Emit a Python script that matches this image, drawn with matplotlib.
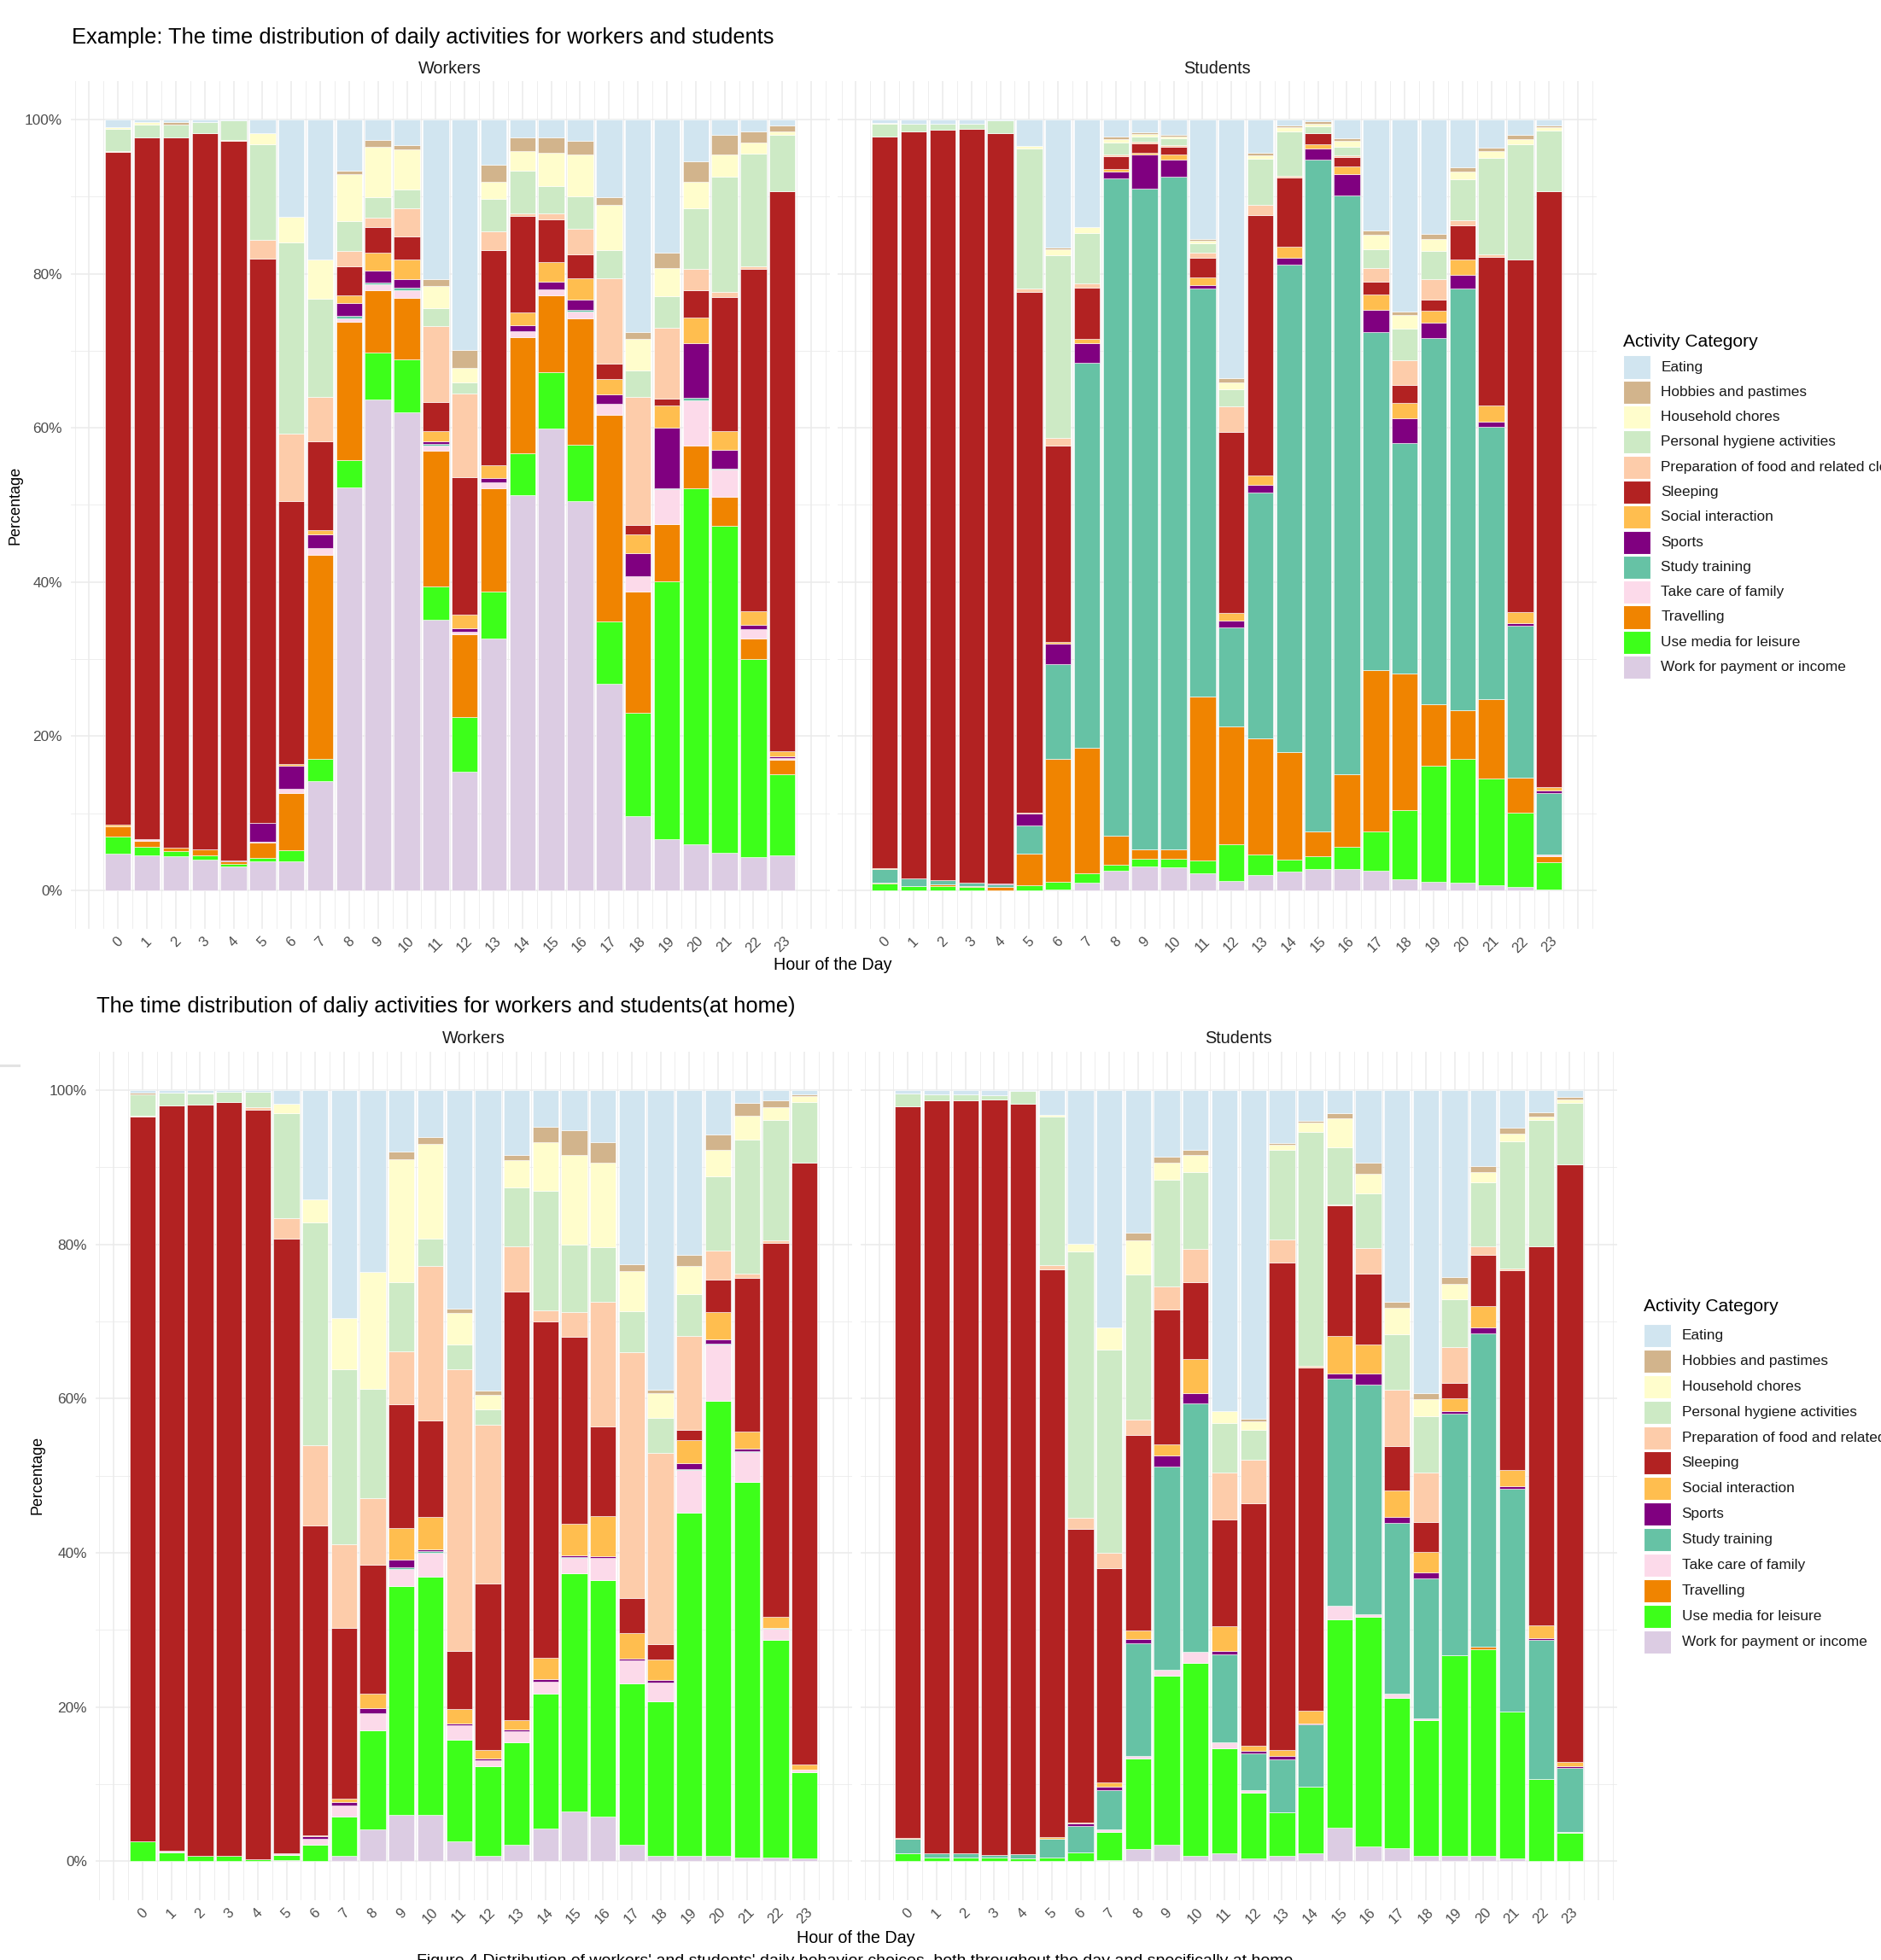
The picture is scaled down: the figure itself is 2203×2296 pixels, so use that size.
import numpy as np
import matplotlib
matplotlib.use("Agg")
import matplotlib.pyplot as plt
from matplotlib.patches import Rectangle
from matplotlib.lines import Line2D

plt.rcParams['font.family'] = ['Liberation Sans', 'DejaVu Sans']

W, H = 2203, 2296
hours = list(range(24))

categories = ["Eating", "Hobbies and pastimes", "Household chores",
              "Personal hygiene activities", "Preparation of food and related cleaning",
              "Sleeping", "Social interaction", "Sports", "Study training",
              "Take care of family", "Travelling", "Use media for leisure",
              "Work for payment or income"]
colors = ["#D1E5F0", "#D2B48C", "#FFFDCC", "#CDEAC5", "#FDCCAA", "#B22222",
          "#FFBE4F", "#800080", "#66C2A5", "#FCDAEA", "#F08400", "#3DFF1A", "#DCCCE3"]

# percentages per hour
workers_all = {
    "Eating": [1.0, 0.3, 0.3, 0.35, 0.1, 1.8, 12.6, 18.2, 6.6, 2.6, 3.3, 20.7, 29.8, 5.9, 2.3, 2.3, 2.7, 10.1, 27.5, 17.2, 5.4, 2.0, 1.5, 0.8],
    "Hobbies and pastimes": [0, 0, 0.3, 0, 0, 0, 0, 0, 0.4, 0.9, 0.6, 0.8, 2.3, 2.2, 1.8, 2.0, 1.8, 1.0, 0.9, 2.0, 2.7, 2.5, 1.5, 0.7],
    "Household chores": [0.2, 0.3, 0, 0, 0, 1.4, 3.3, 5.0, 6.1, 6.5, 5.2, 2.9, 1.9, 2.2, 2.5, 4.3, 5.5, 5.8, 4.1, 3.7, 3.4, 2.9, 1.4, 0.5],
    "Personal hygiene activities": [2.9, 1.7, 1.7, 1.4, 2.5, 12.4, 24.9, 12.8, 3.9, 2.7, 2.4, 2.3, 1.5, 4.2, 5.6, 3.5, 4.2, 3.7, 3.5, 4.1, 7.8, 15.0, 14.6, 7.3],
    "Preparation of food and related cleaning": [0.1, 0, 0, 0, 0.1, 2.5, 8.7, 5.8, 2.0, 1.2, 3.7, 9.9, 10.8, 2.4, 0.3, 0.8, 3.3, 11.1, 16.5, 9.2, 2.8, 0.6, 0.3, 0],
    "Sleeping": [87.5, 91.1, 92.2, 92.9, 93.6, 73.3, 34.1, 11.5, 3.7, 3.3, 3.0, 3.7, 17.8, 28.0, 12.5, 5.5, 3.1, 2.0, 1.3, 0.9, 3.5, 17.5, 44.4, 72.6],
    "Social interaction": [0.3, 0, 0, 0, 0, 0.1, 0.2, 0.5, 1.0, 2.3, 2.5, 1.4, 1.8, 1.6, 1.6, 2.6, 2.8, 2.0, 2.4, 2.8, 3.4, 2.4, 1.7, 0.7],
    "Sports": [0, 0, 0, 0, 0.2, 2.4, 3.0, 1.8, 1.7, 1.6, 1.1, 0.3, 0.4, 0.6, 0.8, 1.0, 1.3, 1.2, 3.0, 7.9, 7.0, 2.4, 0.6, 0.2],
    "Study training": [0, 0, 0, 0, 0, 0, 0, 0, 0.3, 0.2, 0.3, 0.2, 0, 0, 0, 0, 0.2, 0, 0, 0.1, 0.3, 0.2, 0, 0],
    "Take care of family": [0, 0.2, 0, 0, 0, 0.1, 0.6, 0.95, 0.5, 0.8, 1.0, 0.7, 0.4, 0.7, 0.8, 0.7, 0.9, 1.4, 2.0, 4.5, 5.9, 3.5, 1.2, 0.2],
    "Travelling": [1.3, 0.8, 0.4, 0.75, 0.3, 2.0, 7.4, 26.5, 17.9, 8.1, 8.0, 17.6, 10.7, 13.4, 15.1, 10.0, 16.4, 26.8, 15.7, 7.5, 5.5, 3.8, 2.7, 1.9],
    "Use media for leisure": [2.2, 1.1, 0.7, 0.55, 0.3, 0.4, 1.5, 2.8, 3.5, 6.0, 6.9, 4.3, 7.1, 6.1, 5.4, 7.3, 7.3, 8.1, 13.4, 33.4, 46.1, 42.4, 25.6, 10.5],
    "Work for payment or income": [4.75, 4.5, 4.4, 4.0, 3.1, 3.8, 3.7, 14.2, 52.2, 63.6, 62.0, 35.0, 15.3, 32.7, 51.2, 59.8, 50.5, 26.8, 9.6, 6.6, 6.0, 4.9, 4.3, 4.5],
}

students_all = {
    "Eating": [0.4, 0.5, 0.5, 0.5, 0.1, 3.4, 16.6, 13.9, 2.2, 1.7, 2.0, 15.5, 33.6, 4.3, 0.8, 0.2, 2.4, 14.4, 24.9, 14.8, 6.2, 3.6, 2.0, 0.7],
    "Hobbies and pastimes": [0, 0, 0, 0, 0, 0, 0.2, 0, 0.3, 0.2, 0.2, 0.2, 0.5, 0.3, 0.2, 0.3, 0.4, 0.5, 0.5, 0.7, 0.5, 0.5, 0.5, 0.3],
    "Household chores": [0.1, 0, 0, 0, 0, 0.3, 0.8, 0.8, 0.5, 0.3, 0.2, 0.3, 0.9, 0.5, 0.5, 0.4, 0.7, 1.9, 1.8, 1.5, 1.0, 0.8, 0.7, 0.4],
    "Personal hygiene activities": [1.7, 1.0, 0.8, 0.7, 1.6, 18.2, 23.7, 6.6, 1.5, 0.7, 1.0, 1.2, 2.2, 6.0, 5.8, 0.8, 1.1, 2.4, 4.1, 3.7, 5.4, 12.6, 14.8, 7.9],
    "Preparation of food and related cleaning": [0, 0, 0, 0, 0, 0.5, 1.0, 0.5, 0.2, 0.2, 0.2, 0.7, 3.3, 1.3, 0.2, 0.1, 0.3, 1.8, 3.2, 2.6, 0.6, 0.3, 0.1, 0],
    "Sleeping": [95.1, 97.0, 97.5, 97.7, 97.2, 67.5, 25.6, 6.6, 1.7, 1.2, 1.0, 2.5, 23.5, 33.9, 9.0, 1.4, 1.2, 1.7, 2.3, 1.5, 4.5, 19.2, 45.5, 77.0],
    "Social interaction": [0.1, 0, 0, 0, 0, 0.2, 0.2, 0.6, 0.3, 0.3, 0.7, 1.0, 1.0, 1.2, 1.4, 0.6, 1.0, 2.0, 2.0, 1.5, 1.9, 2.1, 1.4, 0.5],
    "Sports": [0, 0, 0, 0, 0.2, 1.5, 2.6, 2.5, 0.95, 4.4, 2.2, 0.5, 0.95, 0.95, 0.9, 1.4, 2.7, 2.9, 3.2, 2.0, 1.8, 0.7, 0.3, 0.3],
    "Study training": [1.8, 1.0, 0.6, 0.5, 0.3, 3.7, 12.4, 50.0, 85.2, 86.7, 88.6, 52.8, 12.8, 32.0, 63.3, 87.4, 75.2, 43.8, 29.9, 47.6, 54.8, 35.3, 19.7, 7.9],
    "Take care of family": [0, 0, 0, 0, 0, 0, 0, 0, 0, 0, 0, 0, 0, 0, 0, 0, 0, 0, 0, 0, 0, 0, 0, 0.3],
    "Travelling": [0.1, 0, 0.2, 0.1, 0.4, 4.1, 15.9, 16.3, 3.7, 1.3, 1.3, 21.2, 15.3, 15.1, 13.9, 3.2, 9.4, 21.0, 17.8, 8.0, 6.3, 10.2, 4.5, 0.7],
    "Use media for leisure": [0.9, 0.5, 0.5, 0.4, 0, 0.6, 1.0, 1.2, 0.8, 1.0, 1.1, 1.7, 4.8, 2.6, 1.6, 1.6, 2.8, 5.1, 9.0, 15.0, 16.0, 13.9, 9.6, 3.6],
    "Work for payment or income": [0, 0, 0, 0, 0, 0, 0.1, 1.0, 2.5, 3.1, 3.0, 2.2, 1.2, 2.0, 2.4, 2.8, 2.8, 2.5, 1.4, 1.1, 1.0, 0.6, 0.4, 0.05],
}

workers_home = {
    "Eating": [0.3, 0.3, 0.3, 0.2, 0.2, 1.8, 14.2, 29.6, 23.6, 7.9, 6.1, 28.3, 39.0, 8.4, 4.7, 5.2, 6.7, 22.6, 38.8, 21.4, 5.7, 1.6, 1.3, 0.5],
    "Hobbies and pastimes": [0.3, 0, 0, 0, 0, 0, 0, 0, 0, 1.0, 0.8, 0.6, 0.5, 0.7, 2.0, 3.2, 2.7, 0.9, 0.5, 1.4, 2.0, 1.7, 0.9, 0.3],
    "Household chores": [0, 0, 0.1, 0, 0, 1.2, 2.9, 6.6, 15.1, 15.9, 12.3, 4.1, 1.9, 3.5, 6.4, 11.6, 10.9, 5.2, 3.2, 3.7, 3.5, 3.1, 1.7, 0.7],
    "Personal hygiene activities": [2.7, 1.7, 1.5, 1.35, 2.0, 13.6, 28.9, 22.7, 14.2, 9.0, 3.6, 3.2, 2.0, 7.7, 15.5, 8.7, 7.1, 5.3, 4.5, 5.4, 9.6, 17.4, 15.6, 7.9],
    "Preparation of food and related cleaning": [0.1, 0, 0, 0, 0.3, 2.7, 10.4, 10.8, 8.6, 6.8, 20.0, 36.5, 20.6, 5.8, 1.4, 3.2, 16.1, 31.9, 24.8, 12.2, 3.7, 0.5, 0.3, 0],
    "Sleeping": [93.9, 96.4, 97.2, 97.8, 97.1, 79.9, 40.1, 22.2, 16.8, 16.1, 12.4, 7.5, 21.6, 55.7, 43.6, 24.3, 11.6, 4.5, 2.0, 1.3, 4.2, 19.9, 48.5, 78.0],
    "Social interaction": [0, 0, 0, 0, 0, 0, 0.2, 0.4, 1.8, 4.0, 4.2, 1.9, 1.1, 1.2, 2.8, 4.1, 5.1, 3.3, 2.6, 3.0, 3.6, 2.2, 1.4, 0.6],
    "Sports": [0, 0, 0, 0, 0, 0, 0.3, 0.5, 0.7, 1.0, 0.3, 0.2, 0.3, 0.2, 0.3, 0.2, 0.3, 0.2, 0.3, 0.7, 0.5, 0.3, 0, 0],
    "Study training": [0, 0, 0, 0, 0, 0, 0, 0, 0, 0.3, 0.2, 0.1, 0, 0, 0, 0.1, 0, 0, 0, 0.1, 0.1, 0.1, 0.1, 0],
    "Take care of family": [0, 0.2, 0, 0, 0, 0.2, 0.7, 1.4, 2.2, 2.2, 3.1, 1.8, 0.7, 1.4, 1.6, 2.0, 2.8, 3.0, 2.5, 5.6, 7.3, 3.9, 1.5, 0.4],
    "Travelling": [0] * 24,
    "Use media for leisure": [2.6, 1.2, 0.7, 0.7, 0.3, 0.6, 2.2, 5.1, 12.9, 29.6, 30.8, 13.2, 11.7, 13.4, 17.5, 30.8, 30.6, 21.0, 20.0, 44.5, 59.0, 48.6, 28.2, 11.1],
    "Work for payment or income": [0, 0, 0, 0, 0, 0.2, 0, 0.7, 4.1, 6.0, 6.0, 2.6, 0.7, 2.1, 4.2, 6.5, 5.8, 2.1, 0.7, 0.7, 0.7, 0.5, 0.5, 0.4],
}

students_home = {
    "Eating": [0.4, 0.5, 0.6, 0.7, 0.1, 3.2, 19.9, 30.8, 18.5, 8.6, 7.7, 41.7, 42.7, 6.9, 4.0, 3.0, 9.4, 27.5, 39.3, 24.2, 9.8, 4.9, 2.9, 0.9],
    "Hobbies and pastimes": [0, 0, 0, 0, 0, 0, 0, 0, 1.0, 0.8, 0.7, 0, 0.3, 0.2, 0.2, 0.7, 1.4, 0.7, 0.8, 0.9, 0.8, 0.7, 0.5, 0.3],
    "Household chores": [0, 0, 0, 0, 0, 0.2, 1.0, 2.8, 4.4, 2.2, 2.2, 1.5, 1.1, 0.6, 1.2, 3.7, 2.6, 3.5, 2.2, 2.0, 1.4, 1.0, 0.5, 0.5],
    "Personal hygiene activities": [1.7, 0.8, 0.7, 0.5, 1.7, 19.3, 34.6, 26.4, 18.8, 13.8, 10.0, 6.4, 3.9, 11.7, 30.3, 7.4, 7.0, 7.2, 7.3, 6.2, 8.3, 16.5, 16.3, 7.9],
    "Preparation of food and related cleaning": [0, 0, 0, 0, 0, 0.5, 1.4, 2.0, 2.0, 3.0, 4.3, 6.1, 5.6, 2.9, 0.2, 0.1, 3.4, 7.2, 6.4, 4.6, 1.1, 0.3, 0, 0],
    "Sleeping": [94.9, 97.7, 97.7, 98.0, 97.4, 73.6, 38.1, 27.8, 25.3, 17.5, 10.0, 13.9, 31.5, 63.2, 44.5, 17.0, 9.2, 5.8, 3.9, 2.0, 6.6, 25.8, 49.2, 77.5],
    "Social interaction": [0.1, 0, 0, 0, 0, 0.2, 0.1, 0.5, 1.1, 1.5, 4.4, 3.2, 0.7, 0.8, 1.7, 4.9, 3.7, 3.4, 2.6, 1.7, 2.8, 2.2, 1.7, 0.5],
    "Sports": [0, 0, 0, 0, 0, 0, 0.3, 0.5, 0.5, 1.4, 1.4, 0.4, 0.3, 0.4, 0.1, 0.7, 1.5, 0.8, 0.8, 0.3, 0.7, 0.3, 0.2, 0.2],
    "Study training": [1.9, 0.5, 0.5, 0.3, 0.5, 2.4, 3.4, 5.1, 14.7, 26.4, 32.2, 11.5, 4.8, 6.9, 8.0, 29.4, 29.7, 22.2, 18.2, 31.3, 40.7, 28.9, 18.0, 8.3],
    "Take care of family": [0, 0, 0, 0, 0, 0, 0, 0.3, 0.3, 0.7, 1.4, 0.7, 0.3, 0, 0, 1.8, 0.3, 0.5, 0.2, 0, 0, 0, 0, 0.1],
    "Travelling": [0, 0, 0, 0, 0, 0, 0.1, 0, 0, 0, 0, 0, 0, 0, 0, 0, 0, 0, 0, 0, 0.3, 0, 0, 0],
    "Use media for leisure": [1.0, 0.5, 0.5, 0.5, 0.4, 0.5, 1.1, 3.6, 11.7, 21.9, 25.1, 13.6, 8.5, 5.6, 8.7, 27.0, 29.8, 19.5, 17.6, 26.0, 26.8, 19.0, 10.6, 3.7],
    "Work for payment or income": [0, 0, 0, 0, 0, 0, 0, 0.2, 1.6, 2.2, 0.7, 1.1, 0.4, 0.7, 1.0, 4.4, 1.9, 1.7, 0.7, 0.7, 0.7, 0.4, 0.1, 0.05],
}

fig = plt.figure(figsize=(W / 100, H / 100), dpi=100)


def fx(x):
    return x / W


def fy(y):
    return 1 - y / H


def panel(l, t, r, b, data, show_y):
    ax = fig.add_axes([fx(l), fy(b), fx(r) - fx(l), fy(t) - fy(b)])
    ax.set_xlim(-1.645, 24.645)
    ax.set_ylim(-0.05, 1.05)
    for v in np.arange(-1.5, 25, 0.5):
        ax.axvline(v, color='#EBEBEB', lw=1.1 if v % 1 == 0 else 0.6, zorder=0)
    for k in range(11):
        ax.axhline(k / 10, color='#EBEBEB', lw=1.1 if k % 2 == 0 else 0.6, zorder=0)
    totals = np.sum([data[c] for c in categories], axis=0)
    bottom = np.zeros(24)
    for cat, col in reversed(list(zip(categories, colors))):
        vals = np.array(data[cat]) / totals
        ax.bar(hours, vals, bottom=bottom, width=0.9, color=col,
               edgecolor='white', linewidth=0.4, zorder=2)
        bottom += vals
    for s in ax.spines.values():
        s.set_visible(False)
    ax.set_xticks(hours)
    ax.set_xticklabels([str(h) for h in hours], rotation=45, ha='center', va='top')
    ax.set_yticks([0, 0.2, 0.4, 0.6, 0.8, 1.0])
    ax.tick_params(axis='x', length=0, labelsize=12, colors='#4D4D4D', pad=5)
    ax.tick_params(axis='y', length=0, labelsize=12.4, colors='#4D4D4D', pad=7)
    if show_y:
        ax.set_yticklabels(['0%', '20%', '40%', '60%', '80%', '100%'])
    else:
        ax.tick_params(axis='y', labelleft=False)
    ax.patch.set_alpha(0)
    return ax


def legend(x, y_title, y0, step):
    fig.text(fx(x), fy(y_title), "Activity Category", fontsize=15.1,
             ha='left', va='center', color='black')
    for i, (cat, col) in enumerate(zip(categories, colors)):
        yc = y0 + i * step
        fig.patches.append(Rectangle((fx(x), fy(yc + 13.5)), 32 / W, 27 / H,
                                     transform=fig.transFigure, facecolor=col,
                                     edgecolor='white', lw=0.8))
        fig.text(fx(x + 44.5), fy(yc), cat, fontsize=12.4, ha='left',
                 va='center', color='#1A1A1A')


# top figure: whole day
panel(82.6, 95.1, 971.9, 1087.9, workers_all, True)
panel(980.6, 95.1, 1869.9, 1087.9, students_all, False)
fig.text(fx(83.5), fy(44), "Example: The time distribution of daily activities for workers and students",
         fontsize=18.4, ha='left', va='center')
fig.text(fx(527), fy(80.6), "Workers", fontsize=14.3, ha='center', va='center', color='#1A1A1A')
fig.text(fx(1425), fy(80.6), "Students", fontsize=14.3, ha='center', va='center', color='#1A1A1A')
fig.text(fx(17.6), fy(591.5), "Percentage", fontsize=13, rotation=90, ha='center', va='center')
fig.text(fx(975), fy(1131), "Hour of the Day", fontsize=14.2, ha='center', va='center')
legend(1900.7, 400, 430, 29.3)

# bottom figure: at home
panel(111.6, 1231.9, 997.5, 2225.6, workers_home, True)
panel(1007.9, 1231.9, 1893.8, 2225.6, students_home, False)
fig.text(fx(112.8), fy(1179), "The time distribution of daliy activities for workers and students(at home)",
         fontsize=18.4, ha='left', va='center')
fig.text(fx(554.5), fy(1217), "Workers", fontsize=14.3, ha='center', va='center', color='#1A1A1A')
fig.text(fx(1450.8), fy(1217), "Students", fontsize=14.3, ha='center', va='center', color='#1A1A1A')
fig.text(fx(44), fy(1728), "Percentage", fontsize=13, rotation=90, ha='center', va='center')
fig.text(fx(1002), fy(2270), "Hour of the Day", fontsize=14.2, ha='center', va='center')
legend(1925, 1530.7, 1564.4, 29.9)

fig.add_artist(Line2D([0, fx(22)], [fy(1248), fy(1248)], color='#E3E3E3', lw=2.2))
fig.text(fx(1001), fy(2289), "Figure 4 Distribution of workers' and students' daily behavior choices, "
         "both throughout the day and specifically at home", fontsize=14, ha='center', va='top')

fig.savefig("out.png", dpi=100)
